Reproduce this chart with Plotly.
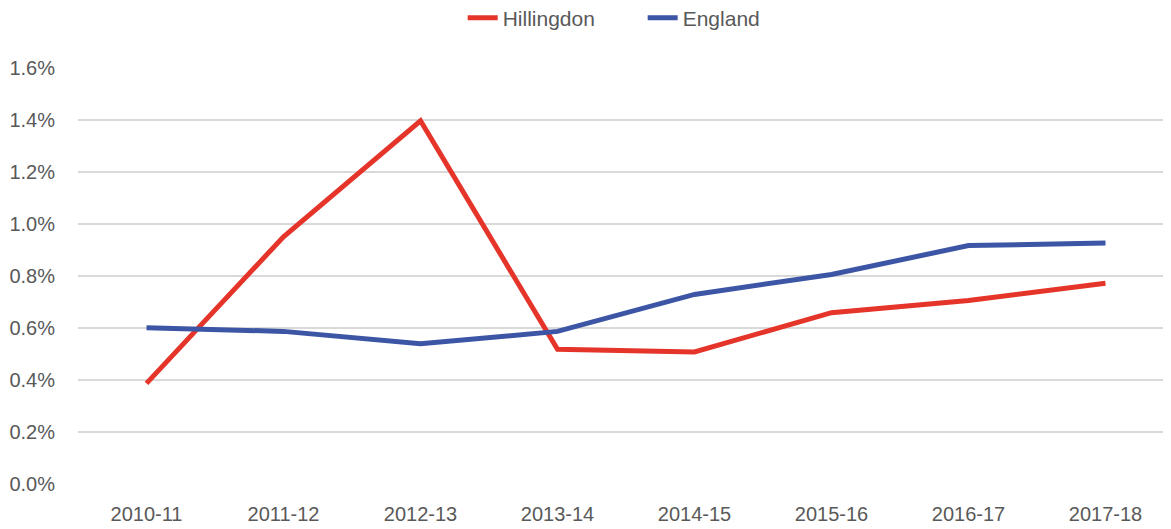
import plotly.graph_objects as go

years = ["2010-11", "2011-12", "2012-13", "2013-14", "2014-15", "2015-16", "2016-17", "2017-18"]
hillingdon = [0.387, 0.951, 1.397, 0.518, 0.508, 0.659, 0.706, 0.772]
england = [0.601, 0.587, 0.539, 0.587, 0.729, 0.806, 0.917, 0.927]
y_ticks = [0.0, 0.2, 0.4, 0.6, 0.8, 1.0, 1.2, 1.4, 1.6]
y_labels = [f"{v:.1f}%" for v in y_ticks]

fig = go.Figure()
fig.add_trace(go.Scatter(x=years, y=hillingdon, name="Hillingdon", mode="lines",
                         line=dict(color="#E5352A", width=5)))
fig.add_trace(go.Scatter(x=years, y=england, name="England", mode="lines",
                         line=dict(color="#3C56A5", width=5)))

fig.update_layout(
    width=1171, height=529,
    margin=dict(l=70, r=5, t=60, b=53),
    paper_bgcolor="white", plot_bgcolor="white",
    font=dict(family="Liberation Sans, Arial, sans-serif", color="#595959", size=20),
    legend=dict(orientation="h", x=0.542, xref="container", xanchor="center",
                y=0.981, yref="container", yanchor="middle",
                entrywidth=135, entrywidthmode="pixels",
                font=dict(size=21, color="#595959"), tracegroupgap=0),
    xaxis=dict(type="category", range=[-0.5, 7.5], showgrid=False, showline=False,
               automargin=False, ticks="", ticklabelstandoff=16,
               tickfont=dict(size=20, color="#595959")),
    yaxis=dict(range=[0, 1.6], tickvals=y_ticks, ticktext=y_labels, automargin=False,
               showgrid=True, gridcolor="#D9D9D9", gridwidth=2, zeroline=False,
               ticks="", ticklabelstandoff=22, tickfont=dict(size=20, color="#595959")),
)
fig.write_html("out.html")
